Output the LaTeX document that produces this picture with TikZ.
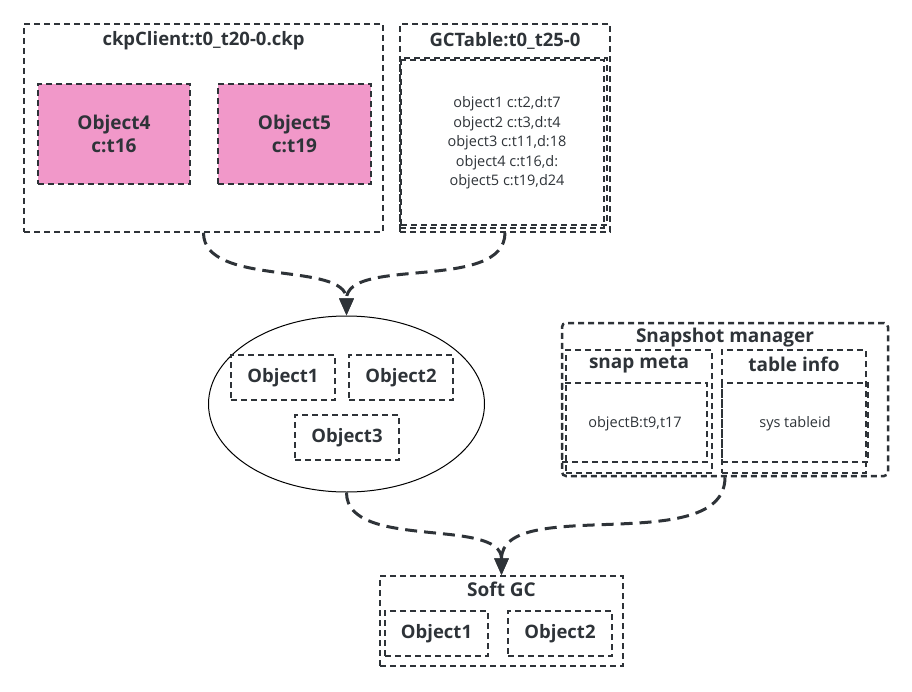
\documentclass[tikz,border=0pt]{standalone}
\usepackage{fontspec}
\setmainfont{Open Sans}
\usetikzlibrary{arrows.meta,shapes.geometric}
\definecolor{edge}{HTML}{2E3338}
\definecolor{objpink}{HTML}{F198C9}
\tikzset{
  box/.style={draw=edge, line width=1.5pt, dash pattern=on 6pt off 4pt, inner sep=0pt},
  pinkbox/.style={box, fill=objpink, align=center, font=\bfseries\fontsize{19}{23}\selectfont, text=edge},
  objbox/.style={box, minimum width=104pt, minimum height=45pt, font=\bfseries\fontsize{18.5}{20}\selectfont, text=edge},
  ttl/.style={font=\bfseries\fontsize{18.5}{20}\selectfont, text=edge, inner sep=0pt},
  small/.style={font=\fontsize{14.5}{19.5}\selectfont, text=edge, align=center, inner sep=0pt},
  flow/.style={draw=edge, line width=3pt, dash pattern=on 12pt off 7pt, -{Triangle[length=17pt,width=14pt]}}
}
\begin{document}
\begin{tikzpicture}[x=1pt,y=-1pt]
\useasboundingbox (0,0) rectangle (912,692);

% checkpoint client
\node[box, minimum width=359pt, minimum height=208pt] (ckp) at (203.5,128) {};
\node[ttl] (ckptitle) at (203.5,41) {ckpClient:t0\_t20-0.ckp};
\node[pinkbox, minimum width=152pt, minimum height=100pt] (obj4) at (114,134) {Object4\\c:t16};
\node[pinkbox, minimum width=153pt, minimum height=100pt] (obj5) at (294.5,134) {Object5\\c:t19};

% gc table
\node[box, minimum width=210pt, minimum height=208pt] (gct) at (505,128) {};
\node[ttl] (gcttitle) at (505,41) {GCTable:t0\_t25-0};
\node[box, minimum width=204pt, minimum height=168pt] (gctbody) at (502,144) {};
\node[box, minimum width=206pt, minimum height=167pt] (gctbody2) at (504,141.5) {};
\node[small] (gcttext) at (507,143) {object1 c:t2,d:t7\\object2 c:t3,d:t4\\object3 c:t11,d:18\\object4 c:t16,d:\\object5 c:t19,d24};

% objects
\node[ellipse, draw=black, line width=1pt, minimum width=276pt, minimum height=176pt] (ell) at (346.5,404) {};
\node[objbox] (eobj1) at (283,377.5) {Object1};
\node[objbox] (eobj2) at (401,377.5) {Object2};
\node[objbox] (eobj3) at (347,437.5) {Object3};

% snapshot manager
\node[box, line width=2.5pt, rounded corners=4pt, minimum width=326pt, minimum height=153pt] (snap) at (725,399.5) {};
\node[ttl, font=\bfseries\fontsize{19}{20}\selectfont] (snaptitle) at (725,338) {Snapshot manager};
\node[box, line width=2pt, minimum width=146pt, minimum height=123pt] (meta) at (639,411.5) {};
\node[ttl, font=\bfseries\fontsize{19}{20}\selectfont] (metatitle) at (639,364) {snap meta};
\node[box, line width=2pt, minimum width=145pt, minimum height=79pt] (metabody) at (634.5,422.5) {};
\node[small] (metatext) at (635,424) {objectB:t9,t17};
\node[box, line width=2pt, minimum width=144pt, minimum height=123pt] (tinfo) at (794,411.5) {};
\node[ttl, font=\bfseries\fontsize{19}{20}\selectfont] (tinfotitle) at (794,364) {table info};
\node[box, line width=2pt, minimum width=146pt, minimum height=79pt] (tinfobody) at (795,422.5) {};
\node[small] (tinfotext) at (795,424) {sys tableid};

% soft gc
\node[box, minimum width=243pt, minimum height=90pt] (sgc) at (501.5,621) {};
\node[ttl, font=\bfseries\fontsize{19}{20}\selectfont] (sgctitle) at (501.5,589) {Soft GC};
\node[objbox, minimum width=103pt] (sobj1) at (436.5,633.5) {Object1};
\node[objbox] (sobj2) at (560,633.5) {Object2};

\draw[flow] (ckp.south) to[out=-90,in=90,looseness=0.85] (ell.north);
\draw[flow] (gct.south) to[out=-90,in=90,looseness=0.85] (ell.north);
\draw[flow] (ell.south) to[out=-90,in=90,looseness=0.85] (sgc.north);
\draw[flow] (snap.south) to[out=-90,in=90,looseness=0.85] (sgc.north);
\end{tikzpicture}
\end{document}
